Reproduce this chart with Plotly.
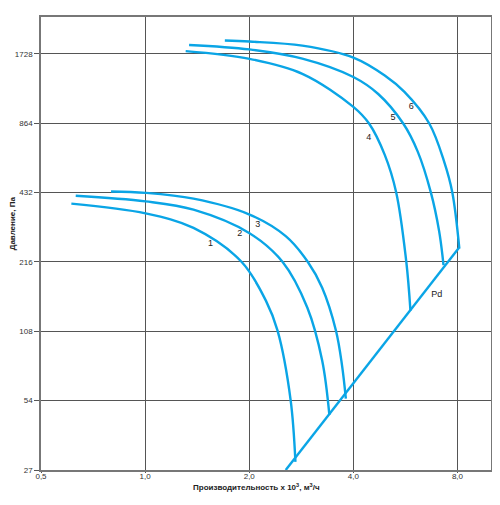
import plotly.graph_objects as go

# curves 1-6: flow (x 10^3 m3/h) vs pressure (Pa)
curve1_x = [0.612, 1.003, 1.38, 1.899, 2.236, 2.415, 2.635, 2.72]
curve1_y = [387, 351, 303.5, 216.5, 146.4, 108.7, 54.2, 29.3]

curve2_x = [0.63, 1.003, 1.38, 2.004, 2.495, 2.943, 3.25, 3.41]
curve2_y = [419, 396, 364.5, 288, 216.5, 137, 80.6, 46.7]

curve3_x = [0.797, 1.003, 1.38, 2.004, 2.55, 2.952, 3.25, 3.563, 3.71, 3.805]
curve3_y = [437, 431, 406.6, 347, 279.5, 216.5, 167, 108.7, 76.7, 55.1]

curve4_x = [1.31, 2.004, 2.848, 4.0, 4.44, 4.93, 5.32, 5.69, 5.85]
curve4_y = [1777, 1646, 1417, 1018, 862, 630, 433, 216.5, 132.6]

curve5_x = [1.34, 2.004, 2.848, 4.0, 4.72, 5.575, 6.14, 6.70, 7.08, 7.29]
curve5_y = [1891, 1808, 1649, 1372, 1158, 862, 651, 433, 294, 209.5]

curve6_x = [1.70, 2.004, 2.848, 4.0, 4.93, 5.62, 6.63, 7.32, 7.73, 8.10]
curve6_y = [1977, 1956, 1877, 1666, 1393, 1182, 862, 589, 433, 247]

pd_x = [2.55, 8.08]
pd_y = [27, 249]

curves = [
    (curve1_x, curve1_y), (curve2_x, curve2_y), (curve3_x, curve3_y),
    (curve4_x, curve4_y), (curve5_x, curve5_y), (curve6_x, curve6_y),
    (pd_x, pd_y),
]

label_text = ["1", "2", "3", "4", "5", "6", "Pd"]
label_x = [1.545, 1.877, 2.117, 4.435, 5.21, 5.88, 6.97]
label_y = [259, 286, 314, 748, 915, 1018, 155]

x_ticks = [0.5, 1.0, 2.0, 4.0, 8.0]
x_ticktext = ["0,5", "1,0", "2,0", "4,0", "8,0"]
y_ticks = [27, 54, 108, 216, 432, 864, 1728]
y_ticktext = ["27", "54", "108", "216", "432", "864", "1728"]

BLUE = "#0aa5e6"
GRID = "#555555"
FONT = "Liberation Sans, Arial, sans-serif"

fig = go.Figure()
for cx, cy in curves:
    fig.add_trace(go.Scatter(
        x=cx, y=cy, mode="lines", line=dict(color=BLUE, width=2.4, shape="spline", smoothing=1.0),
        hoverinfo="skip", showlegend=False,
    ))

fig.add_trace(go.Scatter(
    x=label_x, y=label_y, mode="text", text=label_text,
    textfont=dict(family=FONT, size=9, color="#222222"),
    hoverinfo="skip", showlegend=False,
))

axis_common = dict(
    type="log", showgrid=True, gridcolor=GRID, gridwidth=1,
    showline=True, linecolor="#777777", linewidth=1.5, mirror=True,
    ticks="outside", tickcolor="#555555",
    tickfont=dict(family=FONT, size=8, color="#333333"),
    zeroline=False, fixedrange=True,
)

fig.update_xaxes(range=[-0.30103, 1.0], tickvals=x_ticks, ticktext=x_ticktext,
                 ticklen=1, ticklabelstandoff=-3, **axis_common)
fig.update_yaxes(range=[1.43136, 3.39794], tickvals=y_ticks, ticktext=y_ticktext, ticklen=5, **axis_common)

fig.add_annotation(
    text="<b>Производительность x 10<sup>3</sup>, м<sup>3</sup>/ч</b>",
    xref="paper", yref="paper", x=0.478, y=-0.037, yanchor="middle", showarrow=False,
    font=dict(family=FONT, size=8, color="#222222"),
)
fig.add_annotation(
    text="<b>Давление, Па</b>", textangle=-90,
    xref="paper", yref="paper", x=-0.064, y=0.545, xanchor="center", showarrow=False,
    font=dict(family=FONT, size=8, color="#222222"),
)

# page body adds an 8px offset, so the figure is a bit smaller than the window
fig.update_layout(
    width=492, height=497,
    margin=dict(l=28, r=9, t=7, b=35),
    paper_bgcolor="white", plot_bgcolor="white",
    showlegend=False,
)

fig.write_html("out.html")
